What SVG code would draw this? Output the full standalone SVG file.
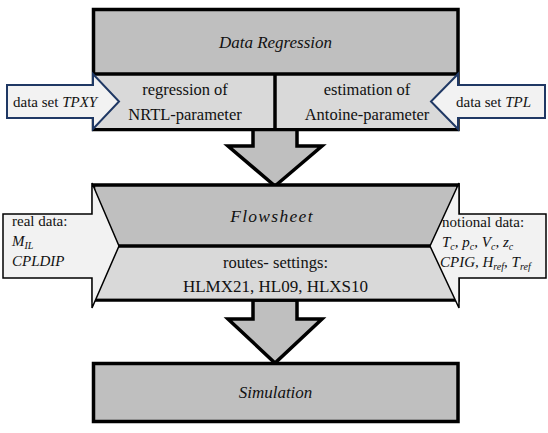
<svg xmlns="http://www.w3.org/2000/svg" width="548" height="433" viewBox="0 0 548 433">
  <style>
    text { font-family: 'Liberation Serif', 'Times New Roman', 'DejaVu Serif', serif; fill: #111; }
    .i { font-style: italic; }
    .dark { fill: #bfbfbf; stroke: #000; stroke-width: 3.5; }
    .light { fill: #d9d9d9; stroke: none; }
    .line { stroke: #000; stroke-width: 3.5; fill: none; }
    .inBlue { fill: #f2f2f2; stroke: #1f3864; stroke-width: 2; stroke-linejoin: miter; }
    .inBlack { fill: #f2f2f2; stroke: #000; stroke-width: 1.5; stroke-linejoin: miter; }
    .down { fill: #bfbfbf; stroke: #000; stroke-width: 3.5; stroke-linejoin: miter; }
  </style>

  <!-- block arrows between the stages -->
  <g id="connectors">
    <polygon class="down" points="253,129 297,129 297,146 322,146 275,186 228,146 253,146"/>
    <polygon class="down" points="253,300 297,300 297,319 322,319 275,363 228,319 253,319"/>
  </g>

  <!-- stage 1: data regression -->
  <g id="data-regression">
    <rect class="dark" x="93.5" y="9.5" width="364.5" height="120"/>
    <rect class="light" x="95" y="74" width="361" height="54"/>
    <line class="line" x1="93.5" y1="74" x2="458" y2="74"/>
    <line class="line" x1="275" y1="74" x2="275" y2="129.5"/>
    <text class="i" x="275.5" y="47.5" font-size="17" text-anchor="middle">Data Regression</text>
    <text x="185" y="95" font-size="16.5" text-anchor="middle">regression of</text>
    <text x="185" y="120" font-size="16.5" text-anchor="middle">NRTL-parameter</text>
    <text x="367" y="95" font-size="16.5" text-anchor="middle">estimation of</text>
    <text x="367" y="120" font-size="16.5" text-anchor="middle">Antoine-parameter</text>
  </g>

  <g id="input-tpxy">
    <polygon class="inBlue" points="7,85 93,85 93,74 119,101.5 93,129 93,118 7,118"/>
    <text x="13" y="106.5" font-size="15">data set <tspan class="i">TPXY</tspan></text>
  </g>

  <g id="input-tpl">
    <polygon class="inBlue" points="545,85 458,85 458,74 431,101.5 458,129 458,118 545,118"/>
    <text x="456" y="106.5" font-size="15">data set <tspan class="i">TPL</tspan></text>
  </g>

  <!-- stage 2: flowsheet -->
  <g id="flowsheet">
    <rect class="dark" x="93.5" y="185" width="364.5" height="115"/>
    <rect class="light" x="95" y="246" width="361" height="52.5"/>
    <line class="line" x1="93.5" y1="246" x2="458" y2="246"/>
    <text class="i" x="272" y="222" font-size="17.5" text-anchor="middle" letter-spacing="1.3">Flowsheet</text>
    <text x="275.5" y="268" font-size="16.5" text-anchor="middle">routes- settings:</text>
    <text x="275.5" y="292" font-size="17" text-anchor="middle">HLMX21, HL09, HLXS10</text>
  </g>

  <g id="input-real-data">
    <polygon class="inBlack" points="3,214 92,214 92,183 119,246 92,308 92,278 3,278"/>
    <text x="12" y="226" font-size="15">real data:</text>
    <text class="i" x="12" y="246" font-size="15">M<tspan font-size="10" dy="3">IL</tspan></text>
    <text class="i" x="12" y="266" font-size="15">CPLDIP</text>
  </g>

  <g id="input-notional-data">
    <polygon class="inBlack" points="546,214 459,214 459,183 430,246 459,308 459,278 546,278"/>
    <text x="442" y="227" font-size="15">notional data:</text>
    <text class="i" x="442" y="247" font-size="15">T<tspan font-size="10" dy="3">c</tspan><tspan dy="-3">, p</tspan><tspan font-size="10" dy="3">c</tspan><tspan dy="-3">, V</tspan><tspan font-size="10" dy="3">c</tspan><tspan dy="-3">, z</tspan><tspan font-size="10" dy="3">c</tspan></text>
    <text class="i" x="440" y="267" font-size="15">CPIG, H<tspan font-size="10" dy="3">ref</tspan><tspan dy="-3">, T</tspan><tspan font-size="10" dy="3">ref</tspan></text>
  </g>

  <!-- stage 3: simulation -->
  <g id="simulation">
    <rect class="dark" x="93.5" y="363.5" width="364.5" height="58"/>
    <text class="i" x="275.5" y="398" font-size="17" text-anchor="middle">Simulation</text>
  </g>
</svg>
